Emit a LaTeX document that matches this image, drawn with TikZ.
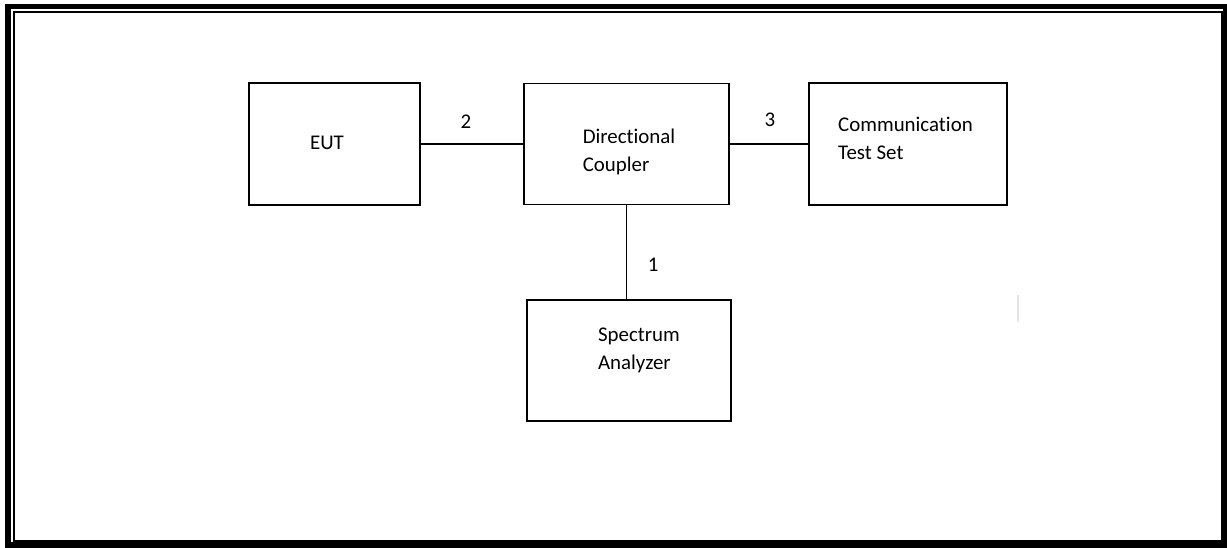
\documentclass[tikz,border=0pt]{standalone}
\usepackage{fontspec}
\setmainfont{Carlito}[Ligatures={NoCommon}]
\usetikzlibrary{positioning}

\tikzset{
  box/.style={draw, line width=1.3pt, inner sep=0pt, outer sep=0pt},
  txt/.style={align=left, inner sep=0pt, font=\fontsize{20.9}{28}\selectfont},
  lbl/.style={inner sep=0pt, font=\fontsize{20.9}{28}\selectfont},
  link/.style={line width=1.3pt}
}

\begin{document}
\begin{tikzpicture}[x=1pt, y=-1pt]
                    \useasboundingbox (0,0) rectangle (1227,548);
                    % double frame
                    \draw[line width=5.5pt] (8,6.5) rectangle (1226,545);
                    \draw[line width=2pt] (14,12) rectangle (1221.5,541);

                    \node[box, minimum width=171pt, minimum height=122pt] (eut) at (334.5,144) {};
                    \node[box, minimum width=205pt, minimum height=121pt, right=104pt of eut] (dc) {};
                    \node[box, minimum width=198pt, minimum height=122pt, right=80pt of dc] (cts) {};
                    \node[box, minimum width=204pt, minimum height=121pt, below=95.5pt of dc, xshift=2.5pt] (sa) {};

                    \node[txt] (eut-t) at ([shift={(-7.5,-1)}]eut.center) {EUT};
                    \node[txt] (dc-t) at ([shift={(2.5,8)}]dc.center) {Directional\\Coupler};
                    \node[txt] (cts-t) at ([shift={(-2.5,-6)}]cts.center) {Communication\\Test Set};
                    \node[txt] (sa-t) at ([shift={(10,-10)}]sa.center) {Spectrum\\Analyzer};

                    \draw[link] (eut.east) -- node[lbl, above=15pt, xshift=-6pt] (p2) {2} (eut.east -| dc.west);
                    \draw[link] (dc.east |- cts.west) -- node[lbl, above=16.5pt, xshift=1pt] (p3) {3} (cts.west);
                    \draw[link] (dc.south) -- node[lbl, right=20.7pt, yshift=-12.5pt] (p1) {1} (dc.south |- sa.north);

                    % faint mark
                    \draw[gray!20, line width=1.5pt] (1018,295) -- (1018,322);
                \end{tikzpicture}
\end{document}
